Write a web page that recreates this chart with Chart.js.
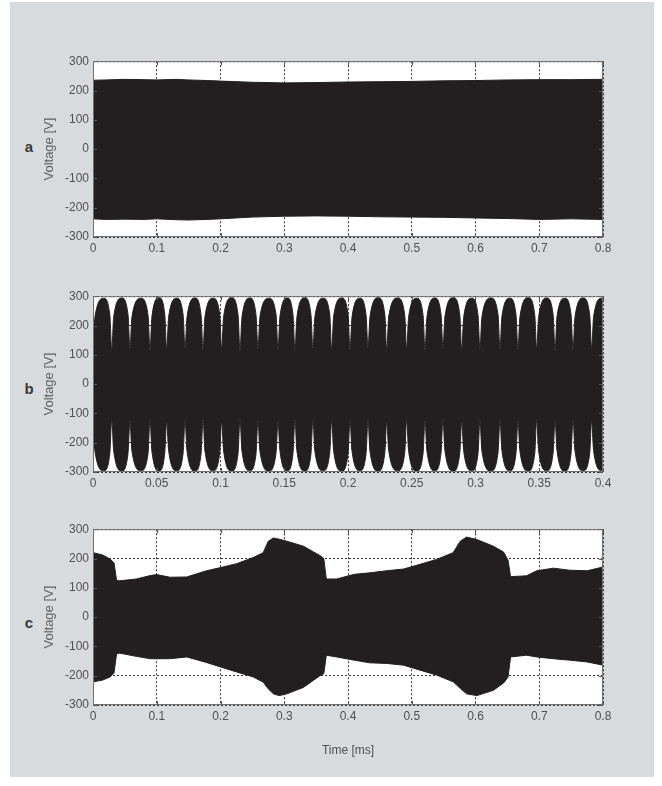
<!DOCTYPE html>
<html>
<head>
<meta charset="utf-8">
<script src="https://cdn.jsdelivr.net/npm/chart.js@4/dist/chart.umd.min.js"></script>
<style>
  html, body { margin: 0; padding: 0; background: #fff; }
  #wrap { position: relative; width: 662px; height: 786px; overflow: hidden; }
  .bg { position: absolute; left: 10px; top: 2px; width: 644px; height: 775px; background: #d8dbde; }
  canvas { position: absolute; left: 38px; }
  .tag { position: absolute; left: 22px; width: 14px; text-align: center;
         font: bold 15px 'Liberation Sans', Arial, sans-serif; color: #3a3a3a; line-height: 16px; }
</style>
</head>
<body>
<div id="wrap">
  <div class="bg"></div>
  <div class="tag" style="top:139px">a</div>
  <div class="tag" style="top:381px">b</div>
  <div class="tag" style="top:615px">c</div>
  <canvas id="chartA" width="580" height="217" style="top:50px"></canvas>
  <canvas id="chartB" width="580" height="217" style="top:285px"></canvas>
  <canvas id="chartC" width="580" height="247" style="top:518px"></canvas>
</div>
<script>
// axis ticks
const yTicks = [-300, -200, -100, 0, 100, 200, 300];
const yLabels = ['-300', '-200', '-100', '0', '100', '200', '300'];
const aXTicks = [0, 0.1, 0.2, 0.3, 0.4, 0.5, 0.6, 0.7, 0.8];
const aXLabels = ['0', '0.1', '0.2', '0.3', '0.4', '0.5', '0.6', '0.7', '0.8'];
const bXTicks = [0, 0.05, 0.1, 0.15, 0.2, 0.25, 0.3, 0.35, 0.4];
const bXLabels = ['0', '0.05', '0.1', '0.15', '0.2', '0.25', '0.3', '0.35', '0.4'];
const cXTicks = aXTicks;
const cXLabels = aXLabels;

// panel a: envelope of the dense signal (upper / lower peaks)
const aT =   [0, 0.02, 0.05, 0.08, 0.1, 0.13, 0.15, 0.18, 0.2, 0.25, 0.3, 0.35, 0.4, 0.45, 0.5, 0.55, 0.6, 0.65, 0.7, 0.75, 0.8];
const aTop = [235, 236, 238, 237, 236, 238, 236, 234, 232, 228, 226, 227, 229, 230, 231, 233, 234, 236, 237, 237, 238];
const aBot = [-238, -240, -239, -240, -238, -241, -242, -240, -238, -232, -229, -228, -229, -231, -232, -233, -235, -237, -240, -238, -240];

// panel b: modulated signal, one row per lobe (shoulder, peak, shoulder, gap)
const bT = [
  0, 0.0015, 0.0085, 0.0132, 0.0147,
  0.0162, 0.0226, 0.0275, 0.0290,
  0.0305, 0.0376, 0.0432, 0.0447,
  0.0462, 0.0519, 0.0563, 0.0578,
  0.0593, 0.0657, 0.0707, 0.0722,
  0.0737, 0.0800, 0.0848, 0.0863,
  0.0878, 0.0943, 0.0994, 0.1009,
  0.1024, 0.1088, 0.1138, 0.1153,
  0.1168, 0.1231, 0.1279, 0.1294,
  0.1309, 0.1380, 0.1436, 0.1451,
  0.1466, 0.1524, 0.1569, 0.1584,
  0.1599, 0.1662, 0.1710, 0.1725,
  0.1740, 0.1806, 0.1857, 0.1872,
  0.1887, 0.1951, 0.2001, 0.2016,
  0.2031, 0.2094, 0.2142, 0.2157,
  0.2172, 0.2238, 0.2289, 0.2304,
  0.2319, 0.2390, 0.2445, 0.2460,
  0.2475, 0.2539, 0.2589, 0.2604,
  0.2619, 0.2682, 0.2730, 0.2745,
  0.2760, 0.2826, 0.2877, 0.2892,
  0.2907, 0.2971, 0.3020, 0.3035,
  0.3050, 0.3121, 0.3177, 0.3192,
  0.3207, 0.3270, 0.3318, 0.3333,
  0.3348, 0.3414, 0.3465, 0.3480,
  0.3495, 0.3559, 0.3609, 0.3624,
  0.3639, 0.3702, 0.3750, 0.3765,
  0.3780, 0.3845, 0.3896, 0.3911,
  0.3926, 0.3990, 0.4000
];
const bTop = [
  125, 228, 293, 236, 116,
  228, 294, 235, 120,
  227, 293, 234, 113,
  229, 295, 236, 118,
  228, 293, 235, 122,
  227, 294, 234, 115,
  229, 293, 236, 119,
  228, 295, 235, 112,
  227, 294, 234, 121,
  228, 293, 236, 117,
  229, 294, 235, 114,
  227, 295, 234, 120,
  228, 293, 236, 118,
  229, 294, 235, 116,
  227, 293, 234, 123,
  228, 295, 236, 115,
  229, 294, 235, 119,
  227, 293, 234, 117,
  228, 294, 236, 121,
  229, 295, 235, 114,
  227, 293, 234, 118,
  228, 294, 236, 120,
  229, 293, 235, 116,
  227, 295, 234, 119,
  228, 294, 236, 113,
  229, 293, 235, 118,
  227, 294, 234, 121,
  228, 293, 288
];
const bBot = [
  -128, -228, -296, -236, -120,
  -226, -297, -234, -124,
  -227, -296, -235, -118,
  -228, -297, -233, -126,
  -226, -296, -234, -121,
  -227, -297, -235, -119,
  -228, -296, -233, -125,
  -226, -297, -234, -117,
  -227, -296, -235, -122,
  -228, -297, -233, -127,
  -226, -296, -234, -120,
  -227, -297, -235, -118,
  -228, -296, -233, -124,
  -226, -297, -234, -121,
  -227, -296, -235, -119,
  -228, -297, -233, -126,
  -226, -296, -234, -120,
  -227, -297, -235, -123,
  -228, -296, -233, -118,
  -226, -297, -234, -125,
  -227, -296, -235, -121,
  -228, -297, -233, -119,
  -226, -296, -234, -124,
  -227, -297, -235, -120,
  -228, -296, -233, -122,
  -226, -297, -234, -118,
  -227, -296, -235, -123,
  -226, -295, -290
];

// panel c: envelope with the bumps near 0.28 and 0.59 ms
const cT = [0, 0.015, 0.027, 0.033, 0.037, 0.042, 0.068, 0.09, 0.1, 0.121, 0.147, 0.178, 0.2, 0.225, 0.251, 0.267,
            0.275, 0.283, 0.292, 0.304, 0.33, 0.356, 0.362, 0.366, 0.382, 0.41, 0.434, 0.46, 0.487, 0.513, 0.539,
            0.565, 0.576, 0.586, 0.602, 0.628, 0.644, 0.651, 0.655, 0.68, 0.696, 0.722, 0.748, 0.775, 0.8];
const cTop = [220, 212, 198, 185, 125, 124, 130, 142, 145, 136, 137, 158, 169, 182, 203, 220,
              259, 270, 266, 259, 242, 210, 200, 130, 130, 146, 151, 158, 164, 180, 197,
              220, 259, 273, 265, 242, 222, 195, 138, 141, 158, 167, 160, 158, 171];
const cBot = [-221, -215, -204, -190, -125, -123, -134, -142, -142, -142, -136, -155, -170, -187, -204, -222,
              -245, -262, -268, -262, -240, -200, -193, -130, -136, -147, -156, -158, -164, -181, -198,
              -221, -243, -262, -268, -250, -225, -205, -136, -130, -136, -142, -147, -153, -164];

const FONT = "'Liberation Sans', Arial, sans-serif";
const INK = '#231f20';

// white plot area, box round it and MATLAB-style inward ticks
const frame = {
  id: 'frame',
  beforeDraw(chart) {
    const { ctx, chartArea: a } = chart;
    ctx.save();
    ctx.fillStyle = '#fff';
    ctx.fillRect(a.left, a.top, a.right - a.left, a.bottom - a.top);
    ctx.restore();
  },
  afterDatasetsDraw(chart) {
    const { ctx, chartArea: a, scales: { x, y } } = chart;
    ctx.save();
    ctx.lineWidth = 1;
    ctx.strokeStyle = '#555';
    ctx.beginPath();
    x.ticks.forEach(t => {
      const px = Math.round(x.getPixelForValue(t.value)) + 0.5;
      ctx.moveTo(px, a.bottom); ctx.lineTo(px, a.bottom - 4);
      ctx.moveTo(px, a.top); ctx.lineTo(px, a.top + 4);
    });
    y.ticks.forEach(t => {
      const py = Math.round(y.getPixelForValue(t.value)) + 0.5;
      ctx.moveTo(a.left, py); ctx.lineTo(a.left + 4, py);
      ctx.moveTo(a.right, py); ctx.lineTo(a.right - 4, py);
    });
    ctx.stroke();
    ctx.strokeStyle = '#707070';
    ctx.strokeRect(a.left + 0.5, a.top + 0.5, a.right - a.left - 1, a.bottom - a.top - 1);
    ctx.restore();
  }
};

const toPoints = (ts, vs) => ts.map((t, i) => ({ x: t, y: vs[i] }));

const makePanel = (id, ts, top, bot, xTicks, xLabels, opts = {}) => {
  const line = {
    borderColor: INK,
    backgroundColor: INK,
    borderWidth: 1,
    pointRadius: 0,
    fill: 'origin',
    tension: 0,
    cubicInterpolationMode: opts.smooth ? 'monotone' : 'default'
  };
  new Chart(document.getElementById(id), {
    type: 'line',
    data: {
      datasets: [
        { ...line, data: toPoints(ts, top) },
        { ...line, data: toPoints(ts, bot) }
      ]
    },
    options: {
      responsive: false,
      animation: false,
      layout: { padding: { top: 10, right: 15, left: 0, bottom: 0 } },
      plugins: { legend: { display: false }, tooltip: { enabled: false } },
      scales: {
        x: {
          type: 'linear',
          min: 0,
          max: xTicks[xTicks.length - 1],
          afterBuildTicks: s => { s.ticks = xTicks.map(v => ({ value: v })); },
          afterFit: s => { s.height = opts.xHeight || 30; },
          grid: { color: '#333', lineWidth: 1, drawTicks: false },
          border: { display: false, dash: [2, 2] },
          ticks: {
            padding: 4,
            maxRotation: 0,
            autoSkip: false,
            color: '#505050',
            font: { family: FONT, size: 12 },
            callback: (v, i) => xLabels[i]
          },
          title: opts.xTitle ? {
            display: true,
            text: opts.xTitle,
            color: '#505050',
            font: { family: FONT, size: 12 },
            padding: { top: 0, bottom: 7 }
          } : { display: false }
        },
        y: {
          min: -300,
          max: 300,
          afterBuildTicks: s => { s.ticks = yTicks.map(v => ({ value: v })); },
          afterFit: s => { s.width = 55; },
          grid: { color: '#333', lineWidth: 1, drawTicks: false },
          border: { display: false, dash: [2, 2] },
          ticks: {
            padding: 4,
            color: '#505050',
            font: { family: FONT, size: 12 },
            callback: (v, i) => yLabels[i]
          },
          title: {
            display: true,
            text: 'Voltage [V]',
            color: '#606060',
            font: { family: FONT, size: 13 },
            padding: { top: 4, bottom: 0 }
          }
        }
      }
    },
    plugins: [frame]
  });
};

makePanel('chartA', aT, aTop, aBot, aXTicks, aXLabels);
makePanel('chartB', bT, bTop, bBot, bXTicks, bXLabels, { smooth: true });
makePanel('chartC', cT, cTop, cBot, cXTicks, cXLabels, { xHeight: 60, xTitle: 'Time [ms]' });
</script>
</body>
</html>
